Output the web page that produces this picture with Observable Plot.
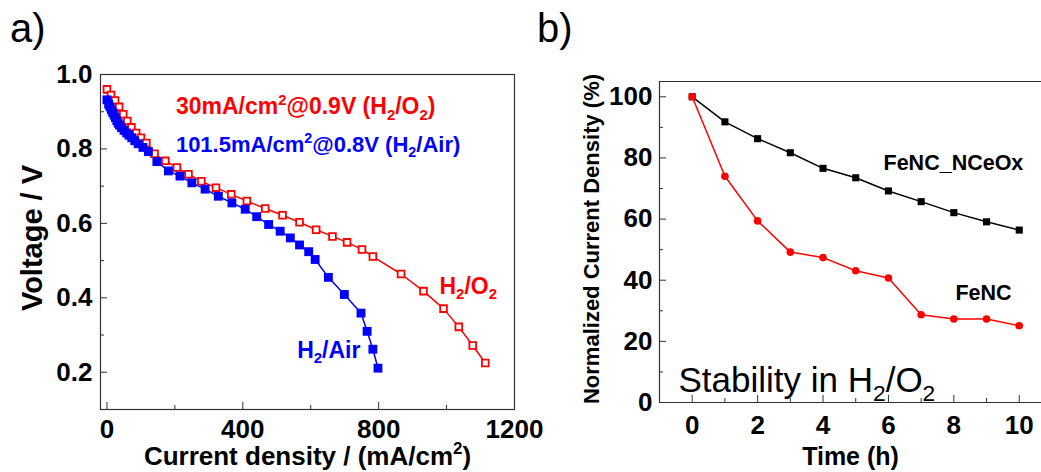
<!DOCTYPE html>
<html>
<head>
<meta charset="utf-8">
<script src="https://cdn.jsdelivr.net/npm/d3@7"></script>
<script src="https://cdn.jsdelivr.net/npm/@observablehq/plot@0.6"></script>
<style>
  html, body { margin: 0; padding: 0; background: #fff; }
  #wrap { position: relative; width: 1041px; height: 472px; overflow: hidden; background: #fff; font-family: "Liberation Sans", Arial, sans-serif; }
  .panel { position: absolute; top: 0; overflow: visible; }
  .plabel { position: absolute; font-family: "Liberation Sans", Arial, sans-serif; font-size: 40px; font-weight: normal; line-height: 1; }
</style>
</head>
<body>
<div id="wrap"></div>
<script>
// ---------- Data: panel a (polarization curves) ----------
const o2Current = [0, 12, 24, 36, 48, 60, 72, 86, 100, 116, 140, 172, 206, 240, 278, 321, 366, 412, 466, 517, 567, 616, 664, 707, 751, 783, 866, 932, 991, 1036, 1077, 1114];
const o2Voltage = [0.96, 0.945, 0.93, 0.913, 0.893, 0.875, 0.858, 0.843, 0.83, 0.816, 0.787, 0.768, 0.75, 0.732, 0.713, 0.696, 0.678, 0.66, 0.64, 0.622, 0.603, 0.583, 0.565, 0.549, 0.53, 0.511, 0.464, 0.418, 0.371, 0.322, 0.272, 0.225];
const airCurrent = [0, 5, 9, 13, 17, 21, 25, 29, 33, 37, 43, 50, 58, 65, 73, 82, 92, 106, 122, 147, 181, 215, 250, 289, 328, 368, 407, 441, 476, 510, 540, 567, 594, 613, 652, 699, 748, 766, 783, 798];
const airVoltage = [0.932, 0.92, 0.913, 0.905, 0.898, 0.891, 0.884, 0.876, 0.869, 0.864, 0.857, 0.85, 0.843, 0.837, 0.83, 0.822, 0.814, 0.804, 0.793, 0.766, 0.741, 0.727, 0.709, 0.692, 0.673, 0.655, 0.638, 0.618, 0.597, 0.579, 0.561, 0.542, 0.524, 0.503, 0.455, 0.409, 0.359, 0.31, 0.262, 0.211];
const aXMajor = [0, 400, 800, 1200];
const aXMinor = [200, 600, 1000];
const aYMajor = [0.2, 0.4, 0.6, 0.8, 1.0];
const aYMinor = [0.3, 0.5, 0.7, 0.9];

// ---------- Data: panel b (stability) ----------
const timeH = [0, 1, 2, 3, 4, 5, 6, 7, 8, 9, 10];
const fencNceox = [100, 91.8, 86.3, 81.7, 76.6, 73.5, 69.2, 65.7, 62.1, 59.1, 56.4];
const fenc = [100, 74.0, 59.4, 49.2, 47.4, 43.1, 40.7, 28.7, 27.3, 27.3, 25.1];
const bXMajor = [0, 2, 4, 6, 8, 10];
const bXMinor = [1, 3, 5, 7, 9];
const bYMajor = [0, 20, 40, 60, 80, 100];
const bYMinor = [10, 30, 50, 70, 90];

const o2 = o2Current.map((j, i) => ({j, v: o2Voltage[i]}));
const air = airCurrent.map((j, i) => ({j, v: airVoltage[i]}));
const stabA = timeH.map((t, i) => ({t, v: fencNceox[i]}));
const stabB = timeH.map((t, i) => ({t, v: fenc[i]}));

const FONT = '"Liberation Sans", Arial, sans-serif';
const RED = "#ff0000", BLUE = "#0000ff";
const TICK_FS = 26;

// Convert ^{..} / _{..} markers into real tspans
function richify(svg) {
  d3.select(svg).selectAll("text").each(function () {
    const t = this.textContent;
    if (!/[\^_]\{/.test(t)) return;
    const fs = parseFloat(getComputedStyle(this).fontSize) || 20;
    const sel = d3.select(this);
    sel.selectAll("*").remove();
    sel.text(null);
    const re = /([\^_])\{([^}]*)\}/g;
    const parts = [];
    let last = 0, m;
    while ((m = re.exec(t))) {
      if (m.index > last) parts.push({s: t.slice(last, m.index), k: 0});
      parts.push({s: m[2], k: m[1] === "^" ? -1 : 1});
      last = re.lastIndex;
    }
    if (last < t.length) parts.push({s: t.slice(last), k: 0});
    let cur = 0;
    for (const p of parts) {
      const target = p.k === -1 ? -0.42 * fs : p.k === 1 ? 0.25 * fs : 0;
      const ts = sel.append("tspan").text(p.s);
      if (target !== cur) ts.attr("dy", target - cur);
      if (p.k !== 0) ts.attr("font-size", (0.65 * fs) + "px");
      cur = target;
    }
  });
}
function tickFont(svg) {
  d3.select(svg).selectAll('g[aria-label*="tick label"]')
    .attr("font-size", TICK_FS + "px").style("font-size", TICK_FS + "px")
    .attr("font-weight", "bold");
  d3.select(svg).selectAll('g[aria-label*="tick label"] text').attr("font-size", null);
}

// ---------- Panel a ----------
const A = {w: 540, h: 472, mt: 74, mr: 26, mb: 63, ml: 100};
const aFW = A.w - A.ml - A.mr, aFH = A.h - A.mt - A.mb;
const plotA = Plot.plot({
  width: A.w, height: A.h,
  marginTop: A.mt, marginRight: A.mr, marginBottom: A.mb, marginLeft: A.ml,
  style: {fontFamily: FONT, fontWeight: "bold", fontSize: TICK_FS + "px", background: "none", color: "black", overflow: "visible"},
  x: {domain: [-19, 1200], axis: null},
  y: {domain: [0.1, 1.0], axis: null},
  marks: [
    Plot.frame({stroke: "#333", strokeWidth: 1.2}),
    Plot.tickX(aXMajor, {x: d => d, insetTop: aFH - 7, stroke: "#333"}),
    Plot.tickX(aXMinor, {x: d => d, insetTop: aFH - 4, stroke: "#333"}),
    Plot.tickY(aYMajor, {y: d => d, insetRight: aFW - 7, stroke: "#333"}),
    Plot.tickY(aYMinor, {y: d => d, insetRight: aFW - 4, stroke: "#333"}),
    Plot.axisX({ticks: aXMajor, tickSize: 0, tickPadding: 10, label: null, tickFormat: d => String(d)}),
    Plot.axisY({ticks: aYMajor, tickSize: 0, tickPadding: 8, label: null, tickFormat: d3.format(".1f")}),
    Plot.line(o2, {x: "j", y: "v", stroke: RED, strokeWidth: 1.5}),
    Plot.line(air, {x: "j", y: "v", stroke: BLUE, strokeWidth: 1.5}),
    Plot.dot(o2, {x: "j", y: "v", symbol: "square", r: 3.8, stroke: RED, fill: "white", strokeWidth: 1.8}),
    Plot.dot(air, {x: "j", y: "v", symbol: "square", r: 5, fill: BLUE, stroke: "none"}),
    Plot.text(["30mA/cm^{2}@0.9V (H_{2}/O_{2})"], {x: 203, y: 0.913, textAnchor: "start", fill: RED, fontSize: 23}),
    Plot.text(["101.5mA/cm^{2}@0.8V (H_{2}/Air)"], {x: 203, y: 0.811, textAnchor: "start", fill: BLUE, fontSize: 22}),
    Plot.text(["H_{2}/O_{2}"], {x: 979, y: 0.431, textAnchor: "start", fill: RED, fontSize: 23}),
    Plot.text(["H_{2}/Air"], {x: 560, y: 0.259, textAnchor: "start", fill: BLUE, fontSize: 23}),
    Plot.text(["Current density / (mA/cm^{2})"], {frameAnchor: "bottom", textAnchor: "middle", lineAnchor: "middle", dy: 47, fontSize: 26}),
    Plot.text(["Voltage / V"], {frameAnchor: "left", textAnchor: "middle", lineAnchor: "middle", rotate: -90, dx: -68, dy: -4, fontSize: 29})
  ]
});

// ---------- Panel b ----------
const B = {w: 501, h: 472, mt: 81, mr: 0, mb: 70, ml: 119};
const bFW = B.w - B.ml - B.mr, bFH = B.h - B.mt - B.mb;
const plotB = Plot.plot({
  width: B.w, height: B.h,
  marginTop: B.mt, marginRight: B.mr, marginBottom: B.mb, marginLeft: B.ml,
  style: {fontFamily: FONT, fontWeight: "bold", fontSize: TICK_FS + "px", background: "none", color: "black", overflow: "visible"},
  x: {domain: [-1, 10.68], axis: null},
  y: {domain: [0, 105], axis: null},
  marks: [
    Plot.ruleY([0, 105], {stroke: "#333", strokeWidth: 1.2}),
    Plot.ruleX([-1], {stroke: "#333", strokeWidth: 1.2}),
    Plot.tickX(bXMajor, {x: d => d, insetTop: bFH - 7, stroke: "#333"}),
    Plot.tickX(bXMinor, {x: d => d, insetTop: bFH - 4, stroke: "#333"}),
    Plot.tickY(bYMajor, {y: d => d, insetRight: bFW - 7, stroke: "#333"}),
    Plot.tickY(bYMinor, {y: d => d, insetRight: bFW - 4, stroke: "#333"}),
    Plot.axisX({ticks: bXMajor, tickSize: 0, tickPadding: 13, label: null, tickFormat: d => String(d)}),
    Plot.axisY({ticks: bYMajor, tickSize: 0, tickPadding: 7, label: null, tickFormat: d => String(d)}),
    Plot.line(stabA, {x: "t", y: "v", stroke: "black", strokeWidth: 1.5}),
    Plot.line(stabB, {x: "t", y: "v", stroke: RED, strokeWidth: 1.5}),
    Plot.dot(stabA, {x: "t", y: "v", symbol: "square", r: 4, fill: "black", stroke: "none"}),
    Plot.dot(stabB, {x: "t", y: "v", r: 3.8, fill: RED, stroke: "none"}),
    Plot.text(["FeNC_NCeOx"], {x: 5.85, y: 78.2, textAnchor: "start", fontSize: 21.5}),
    Plot.text(["FeNC"], {x: 8.05, y: 35.7, textAnchor: "start", fontSize: 21.5}),
    Plot.text(["Stability in H_{2}/O_{2}"], {x: -0.42, y: 7.1, textAnchor: "start", fontSize: 35, fontWeight: "normal"}),
    Plot.text(["Time (h)"], {frameAnchor: "bottom", textAnchor: "middle", lineAnchor: "middle", dy: 54, fontSize: 25}),
    Plot.text(["Normalized Current Density (%)"], {frameAnchor: "left", textAnchor: "middle", lineAnchor: "middle", rotate: -90, dx: -68, dy: -3, fontSize: 22})
  ]
});

const wrap = document.getElementById("wrap");
for (const [svg, left] of [[plotA, 0], [plotB, 540]]) {
  svg.classList.add("panel");
  svg.style.left = left + "px";
  wrap.appendChild(svg);
  tickFont(svg);
  richify(svg);
}
for (const [txt, x, y] of [["a)", 10, 8], ["b)", 537, 8]]) {
  const d = document.createElement("div");
  d.className = "plabel";
  d.textContent = txt;
  d.style.left = x + "px";
  d.style.top = y + "px";
  wrap.appendChild(d);
}
</script>
</body>
</html>
